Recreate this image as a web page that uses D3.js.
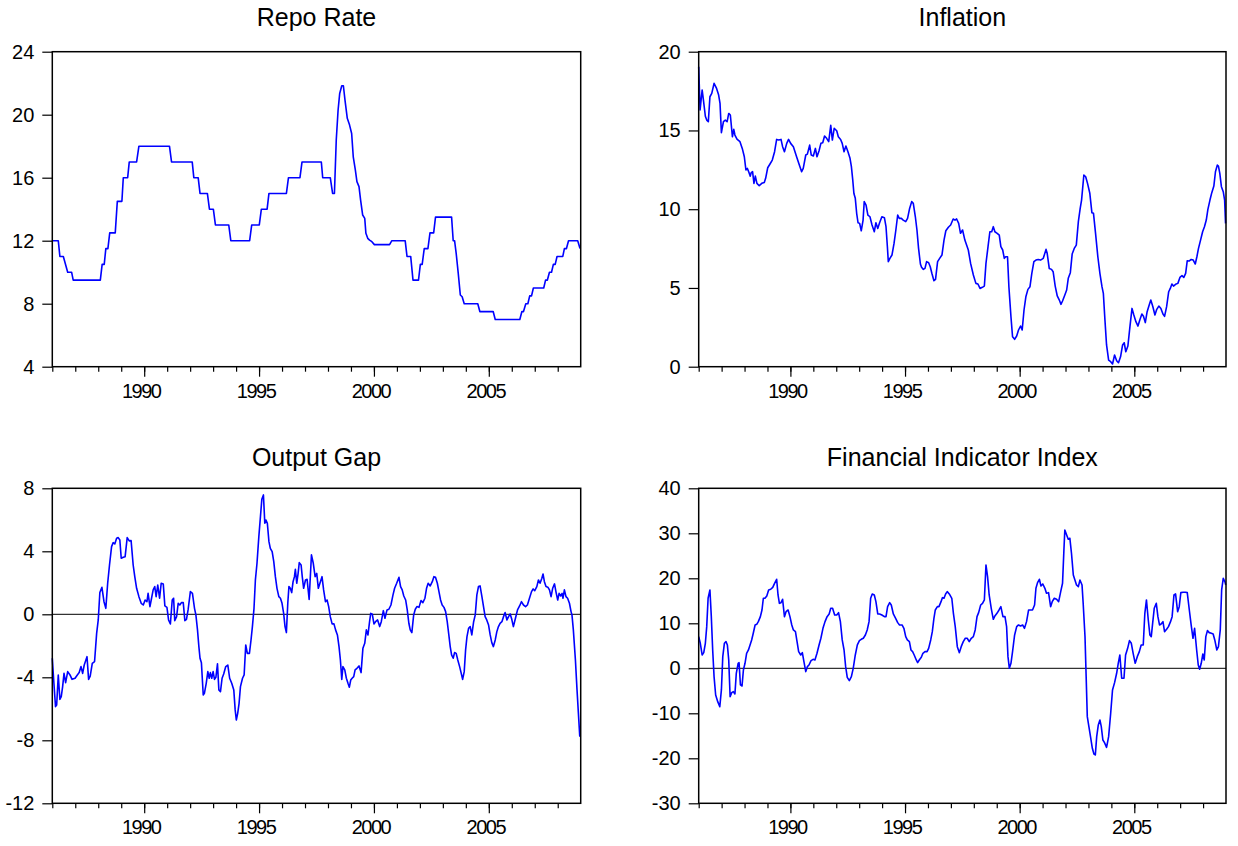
<!DOCTYPE html>
<html>
<head>
<meta charset="utf-8">
<script src="https://cdn.jsdelivr.net/npm/d3@7"></script>
<style>
  body { margin: 0; background: #fff; }
  svg { display: block; font-family: "Liberation Sans", Arial, sans-serif; }
  .title { font-size: 25px; }
  .ytick text { font-size: 20px; }
  .xtick text { font-size: 20px; letter-spacing: -1.5px; }
</style>
</head>
<body>
<div class="chart"></div>
<script>
const repoRate = [
  [1986.00,12],[1986.26,12],[1986.33,11],[1986.48,11],[1986.67,10],[1986.84,10],[1986.91,9.5],[1988.09,9.5],
  [1988.17,10.5],[1988.26,10.5],[1988.33,11.5],[1988.42,11.5],[1988.50,12.5],[1988.74,12.5],[1988.83,14.5],[1989.03,14.5],
  [1989.09,16],[1989.28,16],[1989.35,17],[1989.67,17],[1989.77,18],[1991.10,18],[1991.19,17],[1992.09,17],
  [1992.16,16],[1992.35,16],[1992.43,15],[1992.75,15],[1992.84,14],[1993.01,14],[1993.10,13],[1993.68,13],
  [1993.77,12],[1994.59,12],[1994.68,13],[1995.01,13],[1995.10,14],[1995.35,14],[1995.43,15],[1996.19,15],
  [1996.28,16],[1996.78,16],[1996.87,17],[1997.71,17],[1997.77,16],[1998.10,16],[1998.20,15],[1998.28,15],
  [1998.36,18.39],[1998.44,20.3],[1998.51,21.35],[1998.60,21.84],[1998.67,21.84],[1998.74,20.93],[1998.84,19.77],[1998.94,19.34],
  [1999.03,18.81],[1999.10,17.33],[1999.19,16.49],[1999.26,15.75],[1999.35,15.43],[1999.42,14.58],[1999.51,13.63],[1999.60,13.42],
  [1999.65,12.47],[1999.73,12.15],[1999.81,12.04],[1999.91,11.94],[2000.02,11.75],[2000.68,11.75],[2000.78,12],[2001.36,12],
  [2001.44,11],[2001.60,11],[2001.70,9.5],[2001.94,9.5],[2002.02,10.5],[2002.10,10.5],[2002.19,11.5],[2002.35,11.5],
  [2002.44,12.5],[2002.60,12.5],[2002.68,13.5],[2003.38,13.5],[2003.45,12],[2003.51,12],[2003.58,11.2],[2003.67,9.93],
  [2003.76,8.55],[2003.84,8.44],[2003.93,8],[2004.52,8],[2004.61,7.5],[2005.19,7.5],[2005.28,7],[2006.35,7],
  [2006.44,7.5],[2006.51,7.5],[2006.61,8],[2006.70,8],[2006.78,8.5],[2006.86,8.5],[2006.94,9],[2007.39,9],
  [2007.47,9.5],[2007.55,9.5],[2007.64,10],[2007.73,10],[2007.81,10.5],[2007.89,10.5],[2007.97,11],[2008.22,11],
  [2008.29,11.5],[2008.38,11.5],[2008.47,12],[2008.87,12],[2008.97,11.5]
];

const inflation = [
  [1986.00,19.05],[1986.06,16.3],[1986.15,17.57],[1986.20,17.0],[1986.29,15.9],[1986.35,15.66],[1986.42,15.56],[1986.49,17.14],
  [1986.57,17.35],[1986.67,17.99],[1986.78,17.67],[1986.87,17.25],[1986.93,16.72],[1986.99,14.86],[1987.08,15.56],[1987.16,15.66],
  [1987.24,15.56],[1987.31,16.08],[1987.38,15.98],[1987.47,14.6],[1987.53,15.07],[1987.58,14.71],[1987.67,14.45],[1987.80,14.29],
  [1987.90,13.86],[1987.99,13.33],[1988.06,12.49],[1988.12,12.59],[1988.18,12.38],[1988.25,12.1],[1988.29,12.32],[1988.35,12.38],
  [1988.41,11.64],[1988.47,12.1],[1988.54,11.64],[1988.64,11.49],[1988.75,11.64],[1988.86,11.7],[1988.92,11.96],[1989.01,12.63],
  [1989.11,12.87],[1989.21,13.12],[1989.31,13.65],[1989.40,14.43],[1989.49,14.39],[1989.59,14.43],[1989.66,13.97],[1989.74,13.65],
  [1989.84,14.18],[1989.92,14.43],[1990.01,14.18],[1990.13,13.97],[1990.27,13.33],[1990.39,12.8],[1990.49,12.38],[1990.56,12.59],
  [1990.67,13.44],[1990.74,13.5],[1990.84,14.07],[1990.91,13.44],[1991.00,13.38],[1991.09,13.86],[1991.16,13.33],[1991.25,13.71],
  [1991.33,14.18],[1991.41,14.22],[1991.49,14.65],[1991.58,14.5],[1991.67,14.29],[1991.76,15.32],[1991.83,14.39],[1991.91,15.13],
  [1992.02,14.98],[1992.09,14.6],[1992.19,14.43],[1992.26,14.18],[1992.34,13.65],[1992.42,14.01],[1992.51,13.65],[1992.60,13.23],
  [1992.66,12.7],[1992.72,11.85],[1992.77,11.0],[1992.83,10.69],[1992.89,9.74],[1992.95,9.14],[1993.02,9.1],[1993.09,8.63],
  [1993.17,9.31],[1993.22,10.48],[1993.30,10.26],[1993.38,9.63],[1993.47,9.52],[1993.56,9.0],[1993.66,8.57],[1993.73,9.14],
  [1993.81,8.78],[1993.89,9.14],[1993.99,9.52],[1994.10,9.46],[1994.17,8.89],[1994.23,7.62],[1994.27,6.67],[1994.34,6.88],
  [1994.43,7.09],[1994.52,7.83],[1994.60,8.68],[1994.68,9.63],[1994.75,9.42],[1994.84,9.42],[1994.92,9.31],[1995.03,9.21],
  [1995.11,9.42],[1995.20,10.05],[1995.29,10.48],[1995.36,10.37],[1995.45,9.52],[1995.52,8.68],[1995.59,7.51],[1995.67,6.52],
  [1995.72,6.31],[1995.80,6.18],[1995.87,6.24],[1995.94,6.67],[1996.03,6.6],[1996.10,6.35],[1996.17,5.93],[1996.26,5.46],
  [1996.33,5.55],[1996.42,6.67],[1996.51,6.88],[1996.61,7.09],[1996.70,8.04],[1996.78,8.63],[1996.89,8.85],[1996.99,9.0],
  [1997.10,9.38],[1997.18,9.31],[1997.25,9.38],[1997.34,9.1],[1997.42,8.47],[1997.51,8.68],[1997.61,8.04],[1997.76,7.41],
  [1997.86,6.56],[1997.98,5.82],[1998.09,5.29],[1998.18,5.25],[1998.27,4.97],[1998.37,5.04],[1998.46,5.12],[1998.53,6.56],
  [1998.62,7.62],[1998.70,8.57],[1998.78,8.57],[1998.85,8.89],[1998.92,8.57],[1999.02,8.47],[1999.11,8.36],[1999.18,7.62],
  [1999.26,7.41],[1999.33,6.88],[1999.39,6.98],[1999.47,6.98],[1999.53,5.08],[1999.62,3.17],[1999.69,1.9],[1999.78,1.74],
  [1999.87,1.95],[1999.95,2.33],[2000.04,2.58],[2000.11,2.33],[2000.19,3.6],[2000.27,4.44],[2000.36,4.91],[2000.45,5.08],
  [2000.53,5.93],[2000.62,6.67],[2000.71,6.77],[2000.81,6.81],[2000.91,6.77],[2001.03,6.88],[2001.15,7.45],[2001.20,7.2],
  [2001.29,6.24],[2001.39,6.18],[2001.46,6.03],[2001.55,5.12],[2001.64,4.49],[2001.73,4.23],[2001.80,3.96],[2001.87,4.17],
  [2001.97,4.55],[2002.05,4.87],[2002.12,5.61],[2002.21,5.97],[2002.29,7.15],[2002.38,7.51],[2002.47,7.72],[2002.56,9.21],
  [2002.64,10.05],[2002.70,10.58],[2002.80,12.17],[2002.88,12.06],[2002.96,11.64],[2003.06,11.01],[2003.15,9.78],[2003.22,9.74],
  [2003.31,8.47],[2003.41,6.98],[2003.50,5.93],[2003.59,5.08],[2003.65,4.66],[2003.72,2.96],[2003.79,1.38],[2003.88,0.42],
  [2003.97,0.32],[2004.05,0.17],[2004.14,0.74],[2004.23,0.38],[2004.31,0.25],[2004.40,0.63],[2004.49,1.38],[2004.56,1.52],
  [2004.63,0.95],[2004.72,1.31],[2004.81,2.54],[2004.90,3.7],[2004.98,3.28],[2005.07,2.86],[2005.16,2.58],[2005.24,2.96],
  [2005.33,3.34],[2005.40,3.2],[2005.48,2.8],[2005.56,3.49],[2005.65,3.92],[2005.72,4.23],[2005.81,3.81],[2005.90,3.28],
  [2005.98,3.64],[2006.07,3.85],[2006.16,3.7],[2006.25,3.34],[2006.32,3.2],[2006.41,3.81],[2006.50,4.76],[2006.57,4.97],
  [2006.64,5.25],[2006.71,5.12],[2006.80,5.23],[2006.90,5.29],[2006.99,5.67],[2007.08,5.78],[2007.16,5.67],[2007.24,5.93],
  [2007.31,6.73],[2007.39,6.71],[2007.48,6.81],[2007.57,6.77],[2007.66,6.52],[2007.73,6.98],[2007.80,7.51],[2007.89,8.04],
  [2007.98,8.57],[2008.06,8.89],[2008.14,9.31],[2008.21,9.99],[2008.30,10.58],[2008.38,11.05],[2008.47,11.47],[2008.54,12.38],
  [2008.62,12.8],[2008.67,12.74],[2008.73,12.28],[2008.80,11.43],[2008.88,11.11],[2008.94,10.58],[2008.98,9.1]
];

const outputGap = [
  [1986.00,-2.79],[1986.07,-4.38],[1986.14,-5.86],[1986.19,-5.76],[1986.26,-3.85],[1986.33,-5.4],[1986.39,-5.23],[1986.45,-4.59],
  [1986.51,-3.75],[1986.58,-4.34],[1986.67,-3.64],[1986.77,-3.85],[1986.86,-4.13],[1986.99,-4.06],[1987.09,-3.85],[1987.17,-3.7],
  [1987.25,-3.32],[1987.32,-3.75],[1987.39,-3.22],[1987.51,-2.69],[1987.58,-4.13],[1987.65,-3.92],[1987.74,-3.11],[1987.84,-3.0],
  [1987.93,-1.21],[1988.00,-0.36],[1988.07,1.38],[1988.16,1.71],[1988.25,0.8],[1988.33,0.38],[1988.41,1.97],[1988.49,3.13],
  [1988.58,4.3],[1988.65,4.55],[1988.72,4.47],[1988.80,4.83],[1988.87,4.87],[1988.94,4.72],[1989.00,3.56],[1989.09,3.62],
  [1989.17,3.66],[1989.26,4.87],[1989.35,4.66],[1989.43,4.68],[1989.52,3.13],[1989.59,2.39],[1989.67,1.65],[1989.77,1.12],
  [1989.87,0.7],[1989.96,0.59],[1990.04,0.91],[1990.12,0.8],[1990.17,1.33],[1990.25,0.49],[1990.32,1.02],[1990.39,1.55],
  [1990.46,1.76],[1990.52,1.12],[1990.59,1.86],[1990.67,1.02],[1990.74,1.97],[1990.83,1.93],[1990.90,0.53],[1990.99,0.44],
  [1991.06,-0.36],[1991.14,-0.61],[1991.22,0.91],[1991.28,1.02],[1991.33,-0.4],[1991.41,-0.15],[1991.48,0.7],[1991.55,0.59],
  [1991.62,0.74],[1991.70,0.74],[1991.77,-0.4],[1991.84,-0.32],[1991.91,0.28],[1992.01,1.44],[1992.10,1.33],[1992.19,0.38],
  [1992.25,-0.04],[1992.32,-0.99],[1992.38,-2.05],[1992.43,-2.79],[1992.49,-3.07],[1992.57,-5.12],[1992.62,-5.02],[1992.70,-4.38],
  [1992.77,-3.64],[1992.83,-4.06],[1992.88,-3.7],[1992.94,-4.06],[1993.00,-3.64],[1993.06,-4.13],[1993.12,-4.0],[1993.19,-3.15],
  [1993.25,-4.8],[1993.32,-4.91],[1993.39,-4.06],[1993.46,-3.79],[1993.55,-3.32],[1993.64,-3.22],[1993.72,-4.06],[1993.81,-4.38],
  [1993.90,-4.8],[1993.96,-6.07],[1994.01,-6.71],[1994.07,-6.29],[1994.13,-5.65],[1994.19,-4.59],[1994.28,-4.06],[1994.35,-3.85],
  [1994.42,-1.95],[1994.49,-2.48],[1994.58,-2.48],[1994.65,-1.63],[1994.71,-0.78],[1994.78,0.38],[1994.84,2.18],[1994.91,3.24],
  [1994.99,4.93],[1995.06,6.2],[1995.12,7.3],[1995.19,7.58],[1995.25,5.78],[1995.30,5.99],[1995.36,5.78],[1995.43,4.61],
  [1995.49,4.19],[1995.57,3.98],[1995.64,3.34],[1995.71,2.39],[1995.78,1.65],[1995.86,1.12],[1995.93,1.02],[1996.00,0.7],
  [1996.07,0.06],[1996.13,-0.78],[1996.19,-1.16],[1996.25,0.7],[1996.30,1.76],[1996.36,1.65],[1996.42,1.38],[1996.48,2.07],
  [1996.54,2.39],[1996.58,2.86],[1996.64,1.97],[1996.70,2.6],[1996.75,3.28],[1996.83,3.13],[1996.88,2.39],[1996.94,1.65],
  [1997.02,2.18],[1997.09,2.22],[1997.18,0.95],[1997.28,3.77],[1997.36,3.24],[1997.44,2.39],[1997.51,2.6],[1997.58,1.65],
  [1997.67,2.07],[1997.74,2.39],[1997.81,1.55],[1997.89,0.8],[1997.96,0.91],[1998.03,0.49],[1998.10,-0.15],[1998.18,-0.61],
  [1998.26,-0.61],[1998.33,-0.99],[1998.41,-1.31],[1998.48,-2.05],[1998.54,-2.9],[1998.60,-4.13],[1998.65,-3.32],[1998.73,-3.53],
  [1998.80,-4.06],[1998.87,-4.38],[1998.93,-4.63],[1998.99,-4.17],[1999.05,-4.06],[1999.12,-3.96],[1999.18,-3.53],[1999.26,-3.43],
  [1999.35,-3.28],[1999.44,-3.7],[1999.52,-2.16],[1999.60,-1.84],[1999.67,-0.99],[1999.74,-1.31],[1999.81,-0.47],[1999.86,0.06],
  [1999.93,0.0],[2000.00,-0.61],[2000.07,-0.47],[2000.16,-0.36],[2000.25,-0.78],[2000.32,-0.47],[2000.41,0.23],[2000.48,-0.25],
  [2000.57,0.28],[2000.65,0.32],[2000.74,0.59],[2000.83,1.23],[2000.90,1.65],[2000.99,1.97],[2001.09,2.35],[2001.16,1.76],
  [2001.23,1.55],[2001.30,1.16],[2001.38,0.91],[2001.45,0.28],[2001.52,-0.57],[2001.58,-0.99],[2001.65,-1.16],[2001.73,-0.04],
  [2001.80,0.32],[2001.87,0.49],[2001.96,0.44],[2002.05,0.87],[2002.13,0.74],[2002.22,1.02],[2002.29,1.65],[2002.36,1.97],
  [2002.45,1.8],[2002.54,2.07],[2002.61,2.39],[2002.68,2.35],[2002.76,1.97],[2002.83,1.44],[2002.90,0.91],[2002.97,0.59],
  [2003.05,0.44],[2003.12,0.17],[2003.19,-0.47],[2003.26,-1.31],[2003.32,-2.05],[2003.38,-2.58],[2003.45,-2.79],[2003.51,-2.43],
  [2003.58,-2.48],[2003.65,-2.9],[2003.73,-3.32],[2003.80,-3.75],[2003.86,-4.13],[2003.93,-3.64],[2003.99,-2.26],[2004.05,-1.42],
  [2004.12,-0.89],[2004.19,-0.78],[2004.26,-1.31],[2004.34,-0.47],[2004.41,-0.04],[2004.48,1.23],[2004.55,1.76],[2004.62,1.8],
  [2004.70,1.12],[2004.77,0.49],[2004.84,-0.15],[2004.91,-0.36],[2004.99,-0.68],[2005.06,-1.31],[2005.13,-1.8],[2005.20,-2.05],
  [2005.28,-1.63],[2005.35,-1.1],[2005.42,-0.78],[2005.49,-0.57],[2005.57,-0.47],[2005.64,-0.15],[2005.71,0.11],[2005.79,-0.36],
  [2005.86,-0.15],[2005.93,0.02],[2006.00,-0.32],[2006.07,-0.78],[2006.16,-0.25],[2006.25,0.28],[2006.34,0.53],[2006.42,0.8],
  [2006.51,0.59],[2006.60,0.49],[2006.68,0.59],[2006.77,1.02],[2006.86,1.44],[2006.93,1.61],[2007.00,1.5],[2007.09,1.76],
  [2007.16,2.18],[2007.23,1.97],[2007.31,2.29],[2007.36,2.56],[2007.42,2.07],[2007.49,1.76],[2007.57,1.72],[2007.64,1.55],
  [2007.71,1.12],[2007.78,1.65],[2007.86,1.93],[2007.93,1.38],[2008.00,0.91],[2008.06,1.33],[2008.13,1.16],[2008.19,1.33],
  [2008.23,1.02],[2008.29,1.55],[2008.36,1.12],[2008.43,1.02],[2008.51,0.7],[2008.58,0.17],[2008.62,-0.04],[2008.68,-0.99],
  [2008.77,-2.9],[2008.84,-4.8],[2008.90,-6.29],[2008.96,-7.77]
];

const financialIndex = [
  [1986.00,7.04],[1986.07,5.56],[1986.15,2.96],[1986.22,3.48],[1986.29,5.56],[1986.35,9.26],[1986.41,15.56],[1986.49,17.41],
  [1986.55,11.48],[1986.61,4.07],[1986.67,-1.85],[1986.74,-5.93],[1986.83,-7.41],[1986.92,-8.52],[1986.99,-4.81],[1987.05,2.59],
  [1987.12,5.56],[1987.19,5.93],[1987.25,5.19],[1987.31,1.85],[1987.37,-6.3],[1987.44,-5.41],[1987.51,-5.19],[1987.58,-5.7],
  [1987.64,-1.11],[1987.72,1.11],[1987.76,1.26],[1987.82,-3.7],[1987.89,-3.93],[1987.95,-0.37],[1988.02,1.11],[1988.09,3.33],
  [1988.17,4.07],[1988.24,5.19],[1988.31,6.3],[1988.38,7.78],[1988.46,9.63],[1988.53,9.78],[1988.60,10.37],[1988.69,11.48],
  [1988.76,12.96],[1988.82,15.56],[1988.89,15.56],[1988.97,16.07],[1989.05,17.41],[1989.14,17.56],[1989.23,18.0],[1989.31,18.89],
  [1989.40,19.78],[1989.46,16.3],[1989.52,14.44],[1989.59,14.59],[1989.66,15.33],[1989.74,11.48],[1989.81,12.59],[1989.90,12.96],
  [1989.98,11.48],[1990.06,9.63],[1990.13,8.52],[1990.22,8.15],[1990.29,5.93],[1990.36,3.7],[1990.45,2.96],[1990.52,3.48],
  [1990.59,1.48],[1990.67,-0.74],[1990.74,0.37],[1990.81,0.74],[1990.90,1.7],[1990.99,2.0],[1991.07,1.85],[1991.16,3.33],
  [1991.25,5.19],[1991.33,6.67],[1991.42,8.89],[1991.51,10.37],[1991.60,11.48],[1991.69,12.07],[1991.76,13.33],[1991.84,13.33],
  [1991.93,11.85],[1992.02,11.85],[1992.10,12.37],[1992.18,10.37],[1992.26,6.3],[1992.34,4.07],[1992.41,0.37],[1992.48,-2.0],
  [1992.57,-2.74],[1992.66,-1.85],[1992.74,0.0],[1992.83,2.96],[1992.92,5.19],[1993.01,6.15],[1993.09,6.44],[1993.18,6.67],
  [1993.27,7.41],[1993.35,8.52],[1993.43,10.37],[1993.50,15.56],[1993.57,16.52],[1993.66,16.3],[1993.73,14.81],[1993.81,12.07],
  [1993.89,12.07],[1993.99,11.85],[1994.10,11.48],[1994.17,11.48],[1994.24,13.7],[1994.33,14.59],[1994.40,14.07],[1994.49,12.07],
  [1994.59,11.11],[1994.68,10.15],[1994.76,9.63],[1994.87,9.63],[1994.95,8.89],[1995.03,7.04],[1995.10,6.3],[1995.19,5.93],
  [1995.26,4.07],[1995.33,3.7],[1995.40,2.96],[1995.49,1.85],[1995.55,1.26],[1995.62,1.85],[1995.71,2.44],[1995.78,3.33],
  [1995.87,3.7],[1995.96,3.7],[1996.03,4.44],[1996.12,6.3],[1996.19,8.15],[1996.26,11.11],[1996.32,12.96],[1996.41,13.7],
  [1996.48,13.7],[1996.57,14.81],[1996.63,15.7],[1996.70,15.56],[1996.77,16.52],[1996.84,17.04],[1996.93,16.52],[1997.04,15.56],
  [1997.11,12.22],[1997.19,9.26],[1997.28,4.81],[1997.37,3.48],[1997.45,4.81],[1997.54,5.93],[1997.63,6.67],[1997.71,6.67],
  [1997.80,5.93],[1997.89,6.67],[1997.98,7.04],[1998.06,8.52],[1998.14,11.48],[1998.21,12.37],[1998.30,14.07],[1998.38,14.44],
  [1998.46,15.19],[1998.53,22.96],[1998.60,20.37],[1998.67,16.3],[1998.76,13.33],[1998.85,10.89],[1998.92,11.63],[1999.01,12.22],
  [1999.10,12.96],[1999.18,13.7],[1999.27,11.48],[1999.36,11.48],[1999.43,9.26],[1999.49,2.59],[1999.55,0.0],[1999.62,1.11],
  [1999.69,3.7],[1999.78,7.41],[1999.87,9.26],[1999.95,9.63],[2000.04,9.41],[2000.13,9.63],[2000.21,8.89],[2000.30,10.37],
  [2000.39,12.96],[2000.48,12.96],[2000.56,12.96],[2000.65,14.07],[2000.71,17.78],[2000.78,19.04],[2000.86,19.78],[2000.93,18.3],
  [2001.01,18.74],[2001.10,17.78],[2001.17,16.67],[2001.26,16.81],[2001.35,13.7],[2001.42,14.81],[2001.51,15.56],[2001.61,15.33],
  [2001.70,14.81],[2001.79,17.04],[2001.87,18.89],[2001.93,26.3],[2001.97,30.74],[2002.05,29.63],[2002.12,28.67],[2002.19,28.89],
  [2002.26,25.56],[2002.34,20.74],[2002.41,19.63],[2002.48,18.52],[2002.56,18.15],[2002.63,19.63],[2002.72,18.52],[2002.77,14.44],
  [2002.85,7.04],[2002.90,-1.85],[2002.95,-10.74],[2003.02,-12.96],[2003.09,-15.19],[2003.17,-17.78],[2003.24,-19.04],[2003.30,-19.26],
  [2003.36,-15.19],[2003.43,-12.59],[2003.50,-11.48],[2003.56,-12.96],[2003.63,-15.93],[2003.70,-16.52],[2003.79,-17.56],[2003.88,-15.19],
  [2003.97,-10.0],[2004.05,-4.81],[2004.14,-3.19],[2004.23,-1.11],[2004.30,1.11],[2004.37,2.96],[2004.45,-2.22],[2004.55,-2.22],
  [2004.62,2.96],[2004.71,4.44],[2004.79,6.15],[2004.87,5.56],[2004.95,3.33],[2005.04,1.11],[2005.13,2.59],[2005.22,3.7],
  [2005.30,5.19],[2005.39,5.19],[2005.46,12.22],[2005.53,15.19],[2005.61,10.74],[2005.68,7.41],[2005.74,7.04],[2005.80,10.0],
  [2005.87,13.33],[2005.96,14.44],[2006.03,11.48],[2006.10,9.63],[2006.17,9.85],[2006.25,10.37],[2006.32,8.15],[2006.41,8.67],
  [2006.49,9.26],[2006.58,10.37],[2006.65,11.48],[2006.73,16.3],[2006.80,16.52],[2006.89,12.59],[2006.96,13.7],[2007.03,16.81],
  [2007.13,16.89],[2007.23,16.89],[2007.31,16.81],[2007.40,12.96],[2007.48,9.63],[2007.56,6.67],[2007.63,8.89],[2007.72,4.07],
  [2007.79,0.74],[2007.85,-0.22],[2007.92,1.11],[2007.99,3.19],[2008.05,1.85],[2008.12,7.04],[2008.19,8.37],[2008.27,7.93],
  [2008.36,7.78],[2008.44,7.63],[2008.51,6.3],[2008.60,4.07],[2008.67,4.81],[2008.75,8.52],[2008.81,17.41],[2008.88,20.0],
  [2008.95,19.26],[2008.99,18.52]
];

const titles = ["Repo Rate", "Inflation", "Output Gap", "Financial Indicator Index"];
const yTicks = [
  [4, 8, 12, 16, 20, 24],
  [0, 5, 10, 15, 20],
  [-12, -8, -4, 0, 4, 8],
  [-30, -20, -10, 0, 10, 20, 30, 40]
];
const majorYears = [1990, 1995, 2000, 2005];
const yearRange = [1986, 2009];

const w = 1238;
const h = 846;

const svg = d3.select(".chart").append("svg").attr("width", w).attr("height", h);

const panels = [
  { data: repoRate, left: 52.3, right: 580.7, top: 51.7, bottom: 366.7, zero: false },
  { data: inflation, left: 698.7, right: 1226, top: 51.7, bottom: 366.7, zero: false },
  { data: outputGap, left: 52.3, right: 580.7, top: 488.3, bottom: 803.3, zero: true },
  { data: financialIndex, left: 698.7, right: 1226, top: 488.3, bottom: 803.3, zero: true }
];

panels.forEach((p, i) => {
  const ticks = yTicks[i];
  const x = d3.scaleLinear().domain(yearRange).range([p.left, p.right]);
  const y = d3.scaleLinear().domain(d3.extent(ticks)).range([p.bottom, p.top]);
  const g = svg.append("g");

  g.append("text")
    .attr("class", "title")
    .attr("x", (p.left + p.right) / 2)
    .attr("y", i < 2 ? p.top - 26 : p.top - 22)
    .attr("text-anchor", "middle")
    .text(titles[i]);

  // minor yearly ticks
  g.append("g")
    .attr("transform", "translate(0," + p.bottom + ")")
    .call(d3.axisBottom(x).tickValues(d3.range(yearRange[0], yearRange[1])).tickSize(5).tickFormat(""))
    .call((a) => a.select(".domain").remove());

  // major ticks with labels
  g.append("g")
    .attr("class", "xtick")
    .attr("transform", "translate(0," + p.bottom + ")")
    .call(d3.axisBottom(x).tickValues(majorYears).tickSize(10).tickFormat(d3.format("d")))
    .call((a) => a.select(".domain").remove())
    .call((a) => a.selectAll("text").attr("y", 31).attr("dy", null).attr("dx", -3.5).attr("fill", "#000"))
    .attr("font-family", null).attr("font-size", null);

  // plain hyphen for negatives, as in the original
  g.append("g")
    .attr("class", "ytick")
    .attr("transform", "translate(" + p.left + ",0)")
    .call(d3.axisLeft(y).tickValues(ticks).tickSize(10).tickPadding(8).tickFormat((d) => String(d)))
    .call((a) => a.select(".domain").remove())
    .call((a) => a.selectAll("text").attr("fill", "#000"))
    .attr("font-family", null).attr("font-size", null);

  g.selectAll(".tick line").attr("stroke", "#000").attr("stroke-width", 1.2);

  if (p.zero) {
    g.append("line")
      .attr("x1", p.left).attr("x2", p.right)
      .attr("y1", y(0)).attr("y2", y(0))
      .attr("stroke", "#000").attr("stroke-width", 1);
  }

  g.append("path")
    .datum(p.data)
    .attr("fill", "none")
    .attr("stroke", "#0000ff")
    .attr("stroke-width", 1.6)
    .attr("stroke-linejoin", "round")
    .attr("d", d3.line().x((d) => x(d[0])).y((d) => y(d[1])));

  g.append("rect")
    .attr("x", p.left).attr("y", p.top)
    .attr("width", p.right - p.left).attr("height", p.bottom - p.top)
    .attr("fill", "none").attr("stroke", "#000").attr("stroke-width", 1.5);
});
</script>
</body>
</html>
